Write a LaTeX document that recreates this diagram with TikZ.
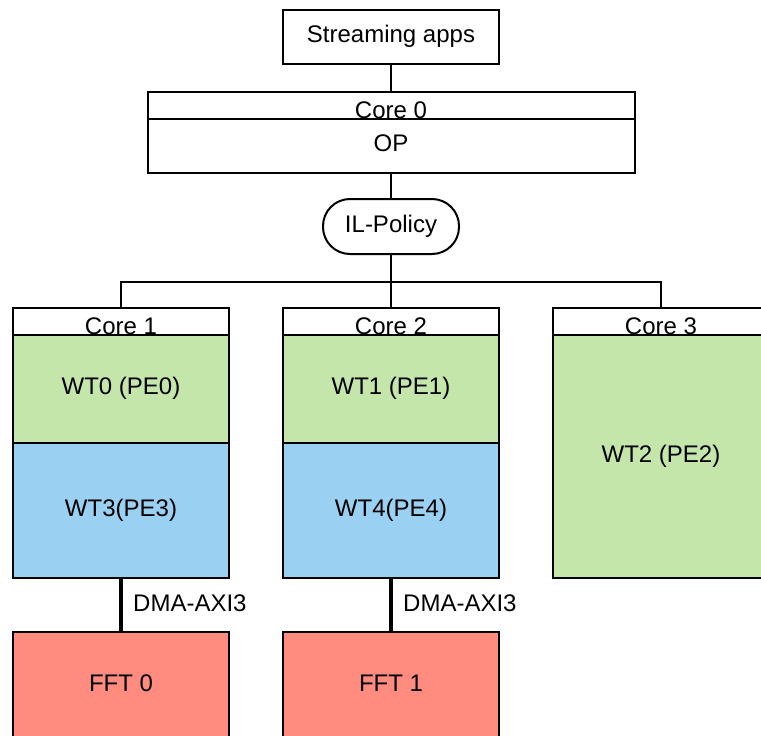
\documentclass[tikz,border=0pt]{standalone}
\usepackage{fontspec}
\setmainfont{Liberation Sans}
\definecolor{wtgreen}{RGB}{197,230,170}
\definecolor{wtblue}{RGB}{154,209,242}
\definecolor{fftred}{RGB}{255,140,127}
\begin{document}
\begin{tikzpicture}[x=1pt,y=-1pt,
  font=\fontsize{24}{28}\selectfont,
  box/.style={draw, line width=2pt, rectangle, inner sep=0pt,
    minimum width=216pt, text height=17pt, text depth=5.5pt},
  hdr/.style={box, fill=white, minimum height=27pt},
  caption/.style={anchor=base, inner sep=0pt},
  wire/.style={line width=2pt},
  dma/.style={line width=4pt}]
\useasboundingbox (0,0) rectangle (761,736);
\clip (0,0) rectangle (761,736);

% top of the stack
\node[box, minimum height=54pt] (apps) at (391,37) {Streaming apps};
\node[hdr, minimum width=487pt] (c0hdr) at (391,105.5) {};
\node[box, minimum width=487pt, minimum height=54pt] (c0body) at (391,146) {OP};
\node[caption] (c0lbl) at (391,118) {Core 0};
\node[box, rounded corners=27pt, minimum width=136pt, minimum height=55pt] (il) at (391,226.5) {IL-Policy};

% cores 1..3
\node[hdr] (c1hdr) at (121,321.5) {};
\node[box, fill=wtgreen, minimum height=108pt] (wt0) at (121,389) {WT0 (PE0)};
\node[box, fill=wtblue, minimum height=135pt] (wt3) at (121,510.5) {WT3(PE3)};

\node[hdr] (c2hdr) at (391,321.5) {};
\node[box, fill=wtgreen, minimum height=108pt] (wt1) at (391,389) {WT1 (PE1)};
\node[box, fill=wtblue, minimum height=135pt] (wt4) at (391,510.5) {WT4(PE4)};

\node[hdr] (c3hdr) at (661,321.5) {};
\node[box, fill=wtgreen, minimum height=243pt] (wt2) at (661,456.5) {WT2 (PE2)};

\node[caption] (c1lbl) at (121,334) {Core 1};
\node[caption] (c2lbl) at (391,334) {Core 2};
\node[caption] (c3lbl) at (661,334) {Core 3};

% accelerators
\node[box, fill=fftred, minimum height=108pt] (fft0) at (121,686) {FFT 0};
\node[box, fill=fftred, minimum height=108pt] (fft1) at (391,686) {FFT 1};

% connectors
\coordinate (bus) at (391,281.5);
\draw[wire] (apps.south) -- (c0hdr.north);
\draw[wire] (c0body.south) -- (il.north);
\draw[wire] (il.south) -- (bus);
\draw[wire] (c1hdr.north) -- (c1hdr.north |- bus) -- (c3hdr.north |- bus) -- (c3hdr.north);
\draw[wire] (bus) -- (c2hdr.north);

\draw[dma] (wt3.south) -- (fft0.north);
\draw[dma] (wt4.south) -- (fft1.north);
\node[anchor=base west, inner sep=0pt] (dma0) at (133,611) {DMA-AXI3};
\node[anchor=base west, inner sep=0pt] (dma1) at (403,611) {DMA-AXI3};
\end{tikzpicture}
\end{document}
